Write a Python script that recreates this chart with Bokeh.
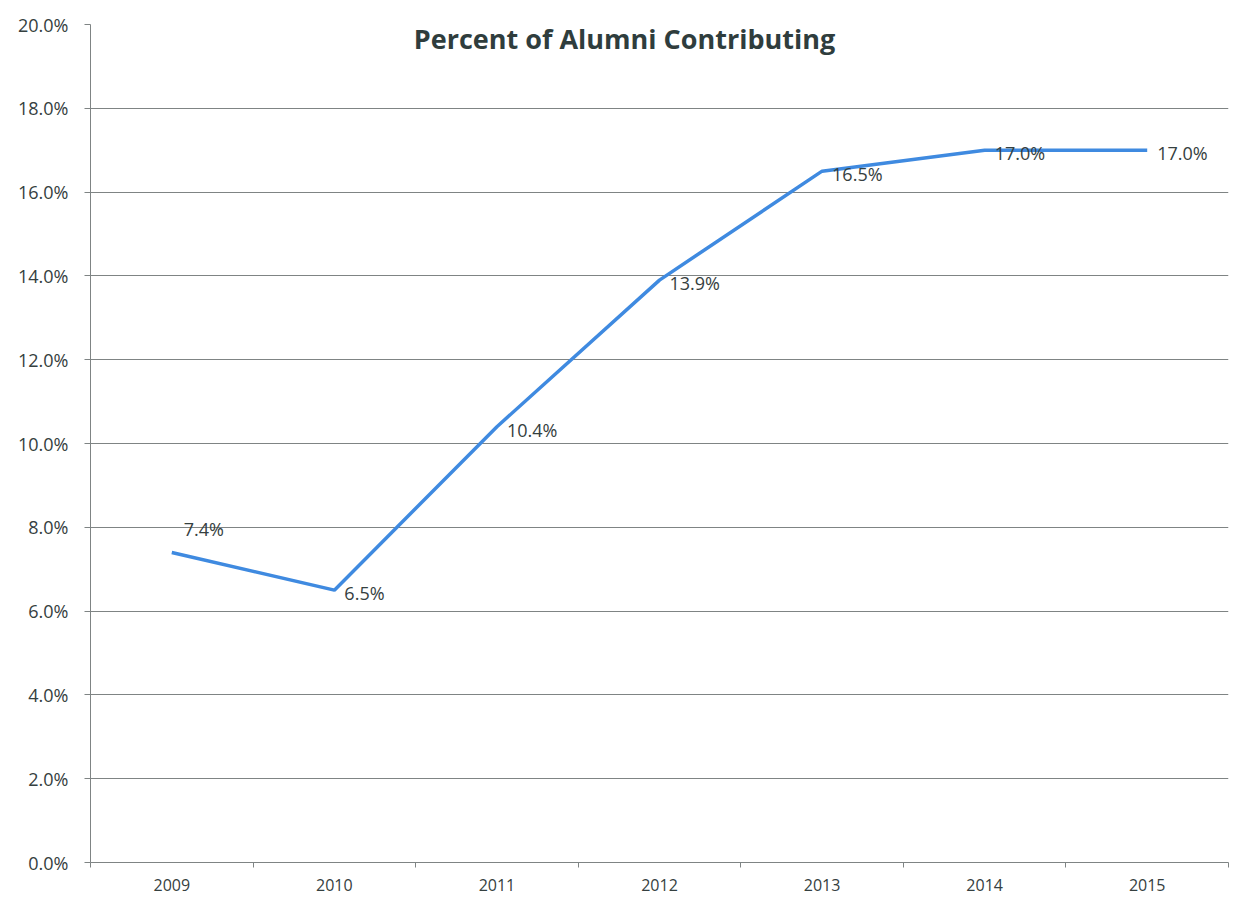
from bokeh.plotting import figure
from bokeh.models import Range1d, FixedTicker, PrintfTickFormatter, ColumnDataSource
from bokeh.core.properties import value
from bokeh.embed import file_html
from bokeh.resources import INLINE

years = ["2009", "2010", "2011", "2012", "2013", "2014", "2015"]
pct = [7.4, 6.5, 10.4, 13.9, 16.5, 17.0, 17.0]
labels = ["7.4%", "6.5%", "10.4%", "13.9%", "16.5%", "17.0%", "17.0%"]
y_ticks = [0, 2, 4, 6, 8, 10, 12, 14, 16, 18, 20]
title_text = "Percent of Alumni Contributing"

TEXT = "#354040"
GRID = "#7f8484"
LINE = "#3f8ae0"
FONT = "Open Sans"

xs = list(range(len(years)))

p = figure(width=1249, height=908, output_backend="svg", toolbar_location=None,
           x_range=Range1d(-0.5, len(years) - 0.5), y_range=Range1d(0, 20),
           min_border_left=90, min_border_right=21, min_border_top=24, min_border_bottom=46)
p.outline_line_color = None
p.background_fill_color = "white"
p.border_fill_color = "white"

# x axis
p.xaxis.ticker = FixedTicker(ticks=xs, minor_ticks=[i - 0.5 for i in range(len(years) + 1)])
p.xaxis.major_label_overrides = {i: y for i, y in enumerate(years)}
p.xaxis.major_tick_line_color = None
p.xaxis.major_tick_out = 0
p.xaxis.major_tick_in = 0
p.xaxis.minor_tick_out = 5
p.xaxis.minor_tick_in = 0
p.xaxis.minor_tick_line_color = GRID
p.xaxis.axis_line_color = GRID
p.xaxis.major_label_text_font = FONT
p.xaxis.major_label_text_font_size = "16px"
p.xaxis.major_label_text_color = TEXT
p.xaxis.major_label_standoff = 11
p.xgrid.grid_line_color = None

# y axis
p.yaxis.ticker = FixedTicker(ticks=y_ticks, minor_ticks=[])
p.yaxis.formatter = PrintfTickFormatter(format="%.1f%%")
p.yaxis.major_tick_out = 6
p.yaxis.major_tick_in = 0
p.yaxis.major_tick_line_color = GRID
p.yaxis.axis_line_color = GRID
p.yaxis.minor_tick_line_color = None
p.yaxis.major_label_text_font = FONT
p.yaxis.major_label_text_font_size = "18px"
p.yaxis.major_label_text_color = TEXT
p.yaxis.major_label_standoff = 16
p.ygrid.grid_line_color = GRID
p.ygrid.grid_line_width = 1.2

src = ColumnDataSource(dict(x=xs, y=pct, label=labels))
p.line("x", "y", source=src, line_color=LINE, line_width=3.5)

src_first = ColumnDataSource(dict(x=xs[:1], y=pct[:1], label=labels[:1]))
src_rest = ColumnDataSource(dict(x=xs[1:], y=pct[1:], label=labels[1:]))
p.text("x", "y", text="label", source=src_rest, x_offset=10, y_offset=3,
       text_font=value(FONT), text_font_size="18px", text_color=TEXT,
       text_baseline="middle", text_align="left")
p.text("x", "y", text="label", source=src_first, x_offset=12, y_offset=-23,
       text_font=value(FONT), text_font_size="18px", text_color=TEXT,
       text_baseline="middle", text_align="left")

# chart title drawn inside the plot area (Excel style)
p.text(x=[2.785], y=[19.67], text=[title_text], text_font=value(FONT),
       text_font_size="27px", text_font_style="bold", text_color="#2f3d3d",
       text_align="center", text_baseline="middle")

open("out.html", "w").write(file_html(p, INLINE))
